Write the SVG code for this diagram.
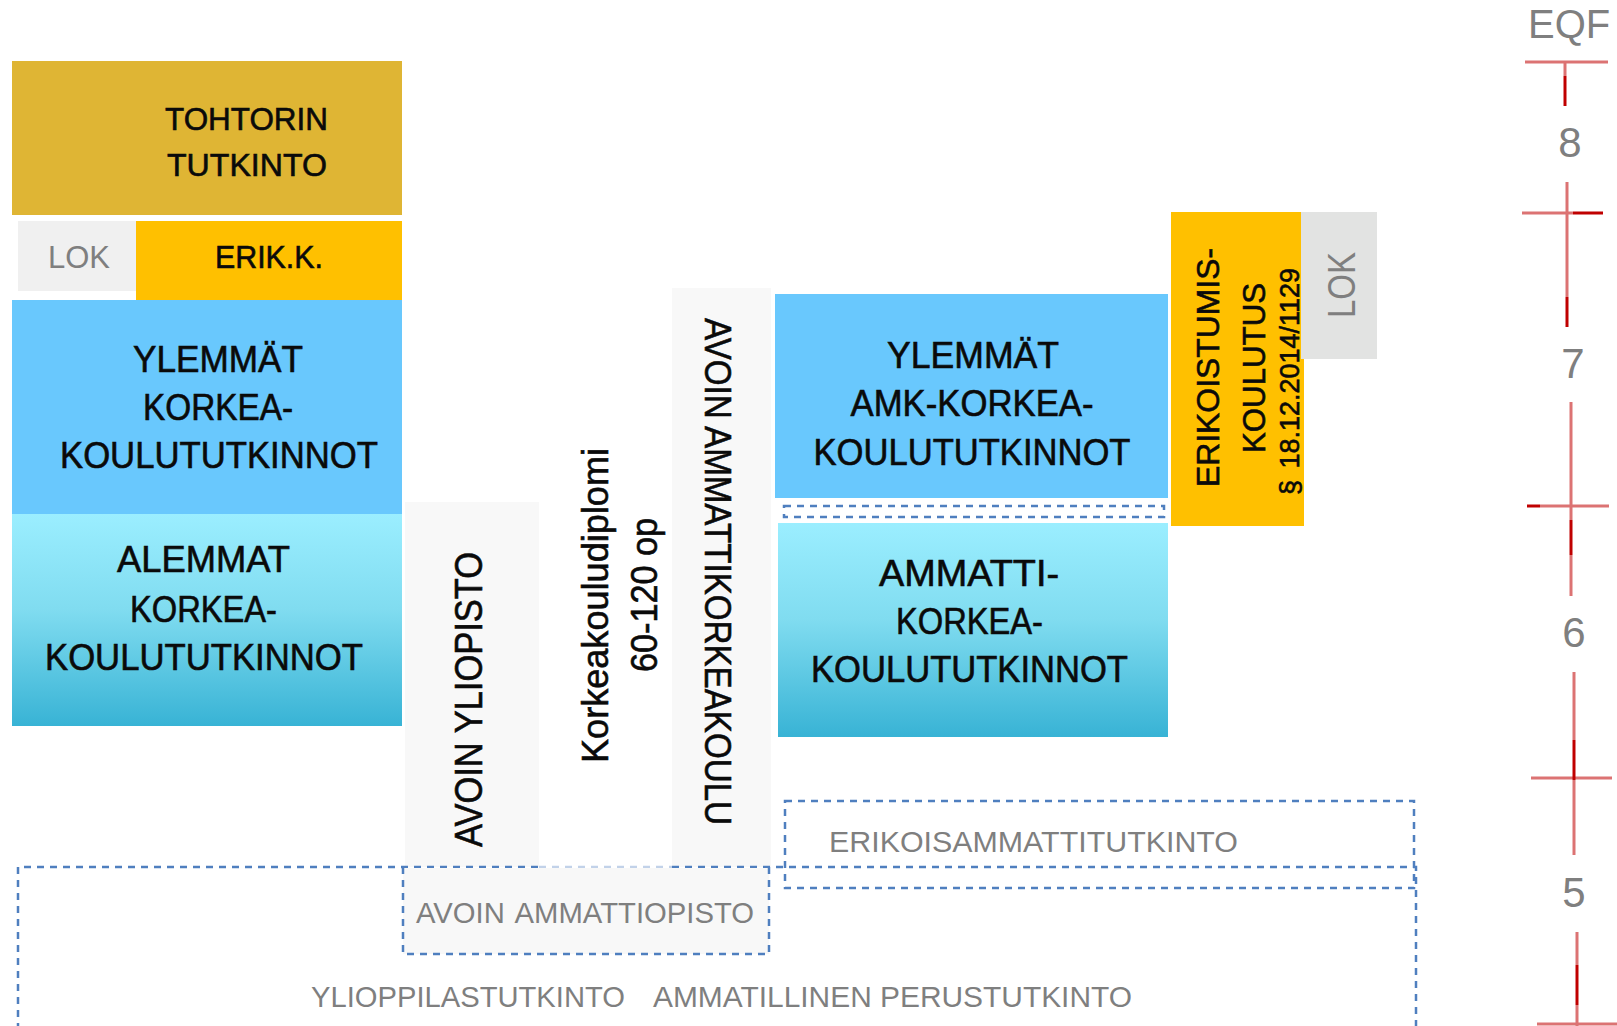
<svg xmlns="http://www.w3.org/2000/svg" width="1617" height="1026" viewBox="0 0 1617 1026">
<defs>
<linearGradient id="gCyan" x1="0" y1="0" x2="0" y2="1">
<stop offset="0" stop-color="#9BEEFF"/>
<stop offset="0.45" stop-color="#80DCF0"/>
<stop offset="1" stop-color="#38B3D5"/>
</linearGradient>
<style>
.t{font-family:"Liberation Sans",Arial,sans-serif;fill:#0a0a0a;stroke:#0a0a0a;stroke-width:0.6;}
.g{font-family:"Liberation Sans",Arial,sans-serif;fill:#7f7f7f;}
.dash{fill:none;stroke:#4F7FBF;stroke-width:2.5;stroke-dasharray:7 6;}
.faint{fill:none;stroke:#4F7FBF;stroke-width:2.5;stroke-dasharray:7 6;stroke-opacity:0.35;}
.ax{stroke:#C00000;stroke-width:3;stroke-opacity:0.55;fill:none;}
.axs{stroke:#C00000;stroke-width:3;fill:none;}
.col{fill:#F8F8F8;}
</style>
</defs>
<rect width="1617" height="1026" fill="#ffffff"/>

<g id="col-avoin-yliopisto">
<rect class="col" x="405" y="502" width="134" height="365"/>
<text class="t" font-size="38" text-anchor="middle" textLength="295" lengthAdjust="spacingAndGlyphs" transform="translate(482,699.5) rotate(-90)">AVOIN YLIOPISTO</text>
</g>

<g id="korkeakouludiplomi">
<text class="t" font-size="36" text-anchor="middle" textLength="315" lengthAdjust="spacingAndGlyphs" transform="translate(608,605.5) rotate(-90)">Korkeakouludiplomi</text>
<text class="t" font-size="36" text-anchor="middle" textLength="154" lengthAdjust="spacingAndGlyphs" transform="translate(657,595) rotate(-90)">60-120 op</text>
</g>

<g id="col-avoin-amk">
<rect class="col" x="672" y="288" width="99" height="579"/>
<text class="t" font-size="37" text-anchor="middle" textLength="507" lengthAdjust="spacingAndGlyphs" transform="translate(705,571.5) rotate(90)">AVOIN AMMATTIKORKEAKOULU</text>
</g>

<g id="tohtorin">
<rect x="12" y="61" width="390" height="154" fill="#DFB534"/>
<text class="t" font-size="32" text-anchor="middle" x="246.5" y="130" textLength="163" lengthAdjust="spacingAndGlyphs">TOHTORIN</text>
<text class="t" font-size="32" text-anchor="middle" x="247" y="176" textLength="160" lengthAdjust="spacingAndGlyphs">TUTKINTO</text>
</g>

<g id="lok-left">
<rect x="18" y="221" width="118" height="70" fill="#F0F0F0"/>
<text class="g" font-size="32" text-anchor="middle" x="79" y="268" textLength="62" lengthAdjust="spacingAndGlyphs">LOK</text>
</g>

<g id="erik-k">
<rect x="136" y="221" width="266" height="79" fill="#FFC000"/>
<text class="t" font-size="32" text-anchor="middle" x="269" y="268" textLength="108" lengthAdjust="spacingAndGlyphs">ERIK.K.</text>
</g>

<g id="ylemmat-korkeakoulu">
<rect x="12" y="300" width="390" height="214" fill="#69C8FD"/>
<text class="t" font-size="36" text-anchor="middle" x="218" y="372" textLength="170" lengthAdjust="spacingAndGlyphs">YLEMMÄT</text>
<text class="t" font-size="36" text-anchor="middle" x="218" y="420" textLength="150" lengthAdjust="spacingAndGlyphs">KORKEA-</text>
<text class="t" font-size="36" text-anchor="middle" x="219" y="468" textLength="318" lengthAdjust="spacingAndGlyphs">KOULUTUTKINNOT</text>
</g>

<g id="alemmat-korkeakoulu">
<rect x="12" y="514" width="390" height="212" fill="url(#gCyan)"/>
<text class="t" font-size="36" text-anchor="middle" x="203.5" y="572" textLength="173" lengthAdjust="spacingAndGlyphs">ALEMMAT</text>
<text class="t" font-size="36" text-anchor="middle" x="203.5" y="622" textLength="147" lengthAdjust="spacingAndGlyphs">KORKEA-</text>
<text class="t" font-size="36" text-anchor="middle" x="204" y="670" textLength="318" lengthAdjust="spacingAndGlyphs">KOULUTUTKINNOT</text>
</g>

<g id="ylemmat-amk">
<rect x="775" y="294" width="393" height="204" fill="#69C8FD"/>
<text class="t" font-size="36" text-anchor="middle" x="973" y="368" textLength="172" lengthAdjust="spacingAndGlyphs">YLEMMÄT</text>
<text class="t" font-size="36" text-anchor="middle" x="972" y="416" textLength="243" lengthAdjust="spacingAndGlyphs">AMK-KORKEA-</text>
<text class="t" font-size="36" text-anchor="middle" x="972" y="465" textLength="317" lengthAdjust="spacingAndGlyphs">KOULUTUTKINNOT</text>
</g>

<g id="amk-gap">
<rect class="dash" x="784" y="506" width="380" height="11"/>
</g>

<g id="ammattikorkeakoulu">
<rect x="778" y="523" width="390" height="214" fill="url(#gCyan)"/>
<text class="t" font-size="36" text-anchor="middle" x="969" y="586" textLength="180" lengthAdjust="spacingAndGlyphs">AMMATTI-</text>
<text class="t" font-size="36" text-anchor="middle" x="969.5" y="634" textLength="147" lengthAdjust="spacingAndGlyphs">KORKEA-</text>
<text class="t" font-size="36" text-anchor="middle" x="969.5" y="682" textLength="317" lengthAdjust="spacingAndGlyphs">KOULUTUTKINNOT</text>
</g>

<g id="erikoistumiskoulutus">
<rect x="1171" y="212" width="133" height="314" fill="#FFC000"/>
<text class="t" font-size="32" text-anchor="middle" textLength="239" lengthAdjust="spacingAndGlyphs" transform="translate(1219,367.5) rotate(-90)">ERIKOISTUMIS-</text>
<text class="t" font-size="32" text-anchor="middle" textLength="170" lengthAdjust="spacingAndGlyphs" transform="translate(1265,368) rotate(-90)">KOULUTUS</text>
<text class="t" font-size="28" stroke-width="0.3" text-anchor="middle" textLength="227" lengthAdjust="spacingAndGlyphs" transform="translate(1299,381.5) rotate(-90)">§<tspan dx="12">18.12.2014/1129</tspan></text>
</g>

<g id="lok-right">
<rect x="1301" y="212" width="76" height="147" fill="#E2E3E2"/>
<text class="g" font-size="38" text-anchor="middle" textLength="66" lengthAdjust="spacingAndGlyphs" transform="translate(1355,285) rotate(-90)">LOK</text>
</g>

<g id="erikoisammattitutkinto">
<rect class="dash" x="785" y="801" width="629" height="87"/>
<text class="g" font-size="30" x="829" y="852" textLength="409" lengthAdjust="spacingAndGlyphs">ERIKOISAMMATTITUTKINTO</text>
</g>

<g id="perustutkinnot">
<path class="dash" d="M18,1030 V867 H539"/>
<path class="faint" d="M539,867 H672"/>
<path class="dash" d="M672,867 H1416 V1030"/>
<text class="g" font-size="30" x="311" y="1007" textLength="314" lengthAdjust="spacingAndGlyphs">YLIOPPILASTUTKINTO</text>
<text class="g" font-size="30" x="653" y="1007" textLength="479" lengthAdjust="spacingAndGlyphs">AMMATILLINEN PERUSTUTKINTO</text>
</g>

<g id="avoin-ammattiopisto">
<rect class="col" x="403" y="868" width="366" height="86"/>
<path class="dash" d="M403,867 V954 H769 V867"/>
<text class="g" font-size="30" x="416" y="923" textLength="338" lengthAdjust="spacingAndGlyphs">AVOIN<tspan dx="10">AMMATTIOPISTO</tspan></text>
</g>

<g id="eqf-axis">
<text class="g" font-size="40" x="1528" y="38">EQF</text>
<path class="ax" d="M1525,62 H1608 M1565,62 V76"/>
<path class="axs" d="M1565,76 V106"/>
<text class="g" font-size="42" text-anchor="middle" x="1570" y="157">8</text>
<path class="ax" d="M1522,213 H1573 M1567,182 V297"/>
<path class="axs" d="M1573,213 H1603 M1567,297 V327"/>
<text class="g" font-size="42" text-anchor="middle" x="1573" y="378">7</text>
<path class="ax" d="M1540,506 H1609 M1571,402 V520 M1571,555 V596"/>
<path class="axs" d="M1527,506 H1540 M1571,520 V555"/>
<text class="g" font-size="42" text-anchor="middle" x="1574" y="647">6</text>
<path class="ax" d="M1531,778 H1612 M1574,672 V740 M1574,780 V855"/>
<path class="axs" d="M1574,740 V780"/>
<text class="g" font-size="42" text-anchor="middle" x="1574" y="907">5</text>
<path class="ax" d="M1537,1024 H1617 M1577,932 V965 M1577,1005 V1026"/>
<path class="axs" d="M1577,965 V1005"/>
</g>

<g id="connectors"></g>
</svg>
